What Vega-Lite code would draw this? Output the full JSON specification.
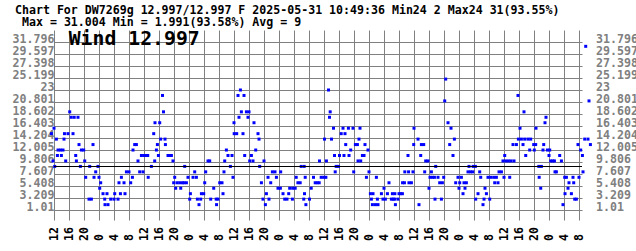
{
  "$schema": "https://vega.github.io/schema/vega-lite/v6.json",
  "width": 528,
  "height": 180,
  "autosize": "none",
  "padding": {"left": 54, "top": 30, "right": 54, "bottom": 41},
  "background": "white",
  "title": {
    "text": "Chart For DW7269g 12.997/12.997 F 2025-05-31 10:49:36 Min24 2 Max24 31(93.55%)",
    "anchor": "start",
    "frame": "group",
    "orient": "top",
    "font": "DejaVu Sans Mono",
    "fontSize": 11.6,
    "fontWeight": "bold",
    "color": "black",
    "lineHeight": 12,
    "dx": -39,
    "dy": 3,
    "offset": 3
  },
  "config": {
    "view": {"stroke": null},
    "axis": {
      "labelFont": "DejaVu Sans Mono",
      "labelFontSize": 11.6,
      "labelFontWeight": "bold",
      "gridColor": "#808080",
      "gridOpacity": 1,
      "gridWidth": 1,
      "domain": false,
      "title": null
    }
  },
  "data": {
    "values": [
      {"t": 11.31, "v": 15}, {"t": 11.73, "v": 10}, {"t": 12.0, "v": 16}, {"t": 12.19, "v": 9}, {"t": 12.64, "v": 14},
      {"t": 12.91, "v": 11}, {"t": 13.07, "v": 12}, {"t": 13.73, "v": 12}, {"t": 13.97, "v": 11}, {"t": 14.4, "v": 12},
      {"t": 14.67, "v": 14}, {"t": 14.79, "v": 15}, {"t": 15.12, "v": 10}, {"t": 15.73, "v": 15}, {"t": 16.19, "v": 19},
      {"t": 16.59, "v": 18}, {"t": 17.07, "v": 15}, {"t": 17.39, "v": 18}, {"t": 17.79, "v": 11}, {"t": 17.97, "v": 10},
      {"t": 18.4, "v": 18}, {"t": 18.67, "v": 13}, {"t": 19.04, "v": 9}, {"t": 19.31, "v": 12}, {"t": 19.92, "v": 12},
      {"t": 20.19, "v": 10}, {"t": 20.45, "v": 7}, {"t": 21.33, "v": 3}, {"t": 21.52, "v": 9}, {"t": 21.97, "v": 3},
      {"t": 22.4, "v": 13}, {"t": 22.67, "v": 7}, {"t": 23.12, "v": 8}, {"t": 23.73, "v": 9}, {"t": 24.0, "v": 7},
      {"t": 24.19, "v": 5}, {"t": 24.45, "v": 6}, {"t": 25.07, "v": 4}, {"t": 25.52, "v": 3}, {"t": 25.6, "v": 1.991},
      {"t": 26.13, "v": 4}, {"t": 26.4, "v": 1.991}, {"t": 27.12, "v": 3}, {"t": 28.0, "v": 3}, {"t": 28.19, "v": 4},
      {"t": 29.07, "v": 3}, {"t": 29.33, "v": 6}, {"t": 29.71, "v": 4}, {"t": 29.97, "v": 7}, {"t": 30.67, "v": 6},
      {"t": 30.93, "v": 4}, {"t": 31.31, "v": 8}, {"t": 32.0, "v": 8}, {"t": 32.45, "v": 6}, {"t": 32.91, "v": 7},
      {"t": 33.07, "v": 12}, {"t": 33.52, "v": 13}, {"t": 33.97, "v": 13}, {"t": 34.4, "v": 10}, {"t": 34.85, "v": 8},
      {"t": 35.31, "v": 11}, {"t": 35.73, "v": 8}, {"t": 36.0, "v": 11}, {"t": 36.53, "v": 11}, {"t": 37.0, "v": 11},
      {"t": 37.12, "v": 7}, {"t": 37.97, "v": 9}, {"t": 38.59, "v": 15}, {"t": 38.85, "v": 10}, {"t": 38.93, "v": 17},
      {"t": 39.31, "v": 12}, {"t": 39.57, "v": 13}, {"t": 39.84, "v": 11}, {"t": 40.19, "v": 17}, {"t": 40.45, "v": 14},
      {"t": 40.93, "v": 22}, {"t": 41.2, "v": 19}, {"t": 41.6, "v": 14}, {"t": 41.71, "v": 13}, {"t": 42.4, "v": 11},
      {"t": 42.85, "v": 11}, {"t": 43.31, "v": 11}, {"t": 43.73, "v": 10}, {"t": 43.92, "v": 6}, {"t": 44.19, "v": 7},
      {"t": 44.45, "v": 5}, {"t": 44.8, "v": 6}, {"t": 45.52, "v": 6}, {"t": 45.79, "v": 5}, {"t": 46.24, "v": 6},
      {"t": 46.67, "v": 6}, {"t": 46.85, "v": 9}, {"t": 47.31, "v": 6}, {"t": 47.73, "v": 7}, {"t": 48.19, "v": 3},
      {"t": 48.37, "v": 4}, {"t": 49.07, "v": 7}, {"t": 49.52, "v": 8}, {"t": 49.97, "v": 7}, {"t": 50.24, "v": 3},
      {"t": 50.67, "v": 1.991}, {"t": 51.12, "v": 3}, {"t": 51.31, "v": 4}, {"t": 51.92, "v": 4}, {"t": 52.19, "v": 6},
      {"t": 52.45, "v": 8}, {"t": 53.07, "v": 10}, {"t": 53.52, "v": 10}, {"t": 53.79, "v": 3}, {"t": 54.59, "v": 5},
      {"t": 55.25, "v": 3}, {"t": 55.35, "v": 1.991}, {"t": 55.73, "v": 3}, {"t": 56.19, "v": 6}, {"t": 56.8, "v": 6},
      {"t": 57.07, "v": 4}, {"t": 57.33, "v": 8}, {"t": 57.52, "v": 10}, {"t": 57.97, "v": 12}, {"t": 58.4, "v": 11},
      {"t": 59.04, "v": 9}, {"t": 59.47, "v": 11}, {"t": 59.73, "v": 7}, {"t": 60.0, "v": 17}, {"t": 60.05, "v": 15},
      {"t": 60.72, "v": 15}, {"t": 61.07, "v": 22}, {"t": 61.33, "v": 18}, {"t": 61.71, "v": 23}, {"t": 61.97, "v": 19},
      {"t": 62.4, "v": 15}, {"t": 62.67, "v": 22}, {"t": 62.85, "v": 11}, {"t": 63.31, "v": 19}, {"t": 63.73, "v": 18},
      {"t": 64.0, "v": 19}, {"t": 64.19, "v": 10}, {"t": 64.64, "v": 11}, {"t": 65.07, "v": 10}, {"t": 65.33, "v": 17},
      {"t": 65.79, "v": 12}, {"t": 66.4, "v": 15}, {"t": 66.67, "v": 14}, {"t": 66.85, "v": 9}, {"t": 67.31, "v": 6},
      {"t": 67.73, "v": 3}, {"t": 68.0, "v": 10}, {"t": 68.37, "v": 1.991}, {"t": 68.64, "v": 4}, {"t": 69.07, "v": 7},
      {"t": 69.33, "v": 3}, {"t": 69.79, "v": 6}, {"t": 70.24, "v": 8}, {"t": 70.93, "v": 8}, {"t": 71.31, "v": 7},
      {"t": 71.73, "v": 5}, {"t": 72.37, "v": 5}, {"t": 72.45, "v": 8}, {"t": 73.07, "v": 4}, {"t": 73.52, "v": 3},
      {"t": 74.13, "v": 3}, {"t": 74.59, "v": 4}, {"t": 74.85, "v": 5}, {"t": 75.57, "v": 3}, {"t": 75.65, "v": 5},
      {"t": 76.32, "v": 5}, {"t": 76.59, "v": 7}, {"t": 77.04, "v": 6}, {"t": 77.65, "v": 6}, {"t": 77.92, "v": 9},
      {"t": 78.6, "v": 3}, {"t": 78.72, "v": 9}, {"t": 78.8, "v": 4}, {"t": 78.99, "v": 7}, {"t": 79.17, "v": 1.991},
      {"t": 80.13, "v": 3}, {"t": 80.59, "v": 5}, {"t": 81.2, "v": 7}, {"t": 81.65, "v": 6}, {"t": 82.19, "v": 6},
      {"t": 82.72, "v": 6}, {"t": 82.8, "v": 10}, {"t": 83.25, "v": 7}, {"t": 83.92, "v": 7}, {"t": 84.13, "v": 14},
      {"t": 84.5, "v": 7}, {"t": 84.65, "v": 10}, {"t": 85.2, "v": 23}, {"t": 85.47, "v": 18}, {"t": 85.65, "v": 19},
      {"t": 86.0, "v": 14}, {"t": 86.53, "v": 16}, {"t": 86.8, "v": 11}, {"t": 86.99, "v": 8}, {"t": 87.25, "v": 9},
      {"t": 87.87, "v": 9}, {"t": 88.13, "v": 11}, {"t": 88.59, "v": 15}, {"t": 89.07, "v": 16}, {"t": 89.33, "v": 11},
      {"t": 89.6, "v": 15}, {"t": 89.79, "v": 13}, {"t": 90.51, "v": 16}, {"t": 90.67, "v": 11}, {"t": 91.12, "v": 12},
      {"t": 91.73, "v": 16}, {"t": 91.92, "v": 8}, {"t": 92.37, "v": 13}, {"t": 92.91, "v": 13}, {"t": 93.07, "v": 10},
      {"t": 93.33, "v": 14}, {"t": 93.6, "v": 16}, {"t": 93.79, "v": 10}, {"t": 94.24, "v": 11}, {"t": 94.67, "v": 11},
      {"t": 94.93, "v": 13}, {"t": 95.31, "v": 7}, {"t": 95.73, "v": 12}, {"t": 96.0, "v": 8}, {"t": 96.37, "v": 4},
      {"t": 96.64, "v": 3}, {"t": 96.91, "v": 1.991}, {"t": 97.07, "v": 4}, {"t": 97.71, "v": 1.991}, {"t": 97.97, "v": 7},
      {"t": 98.24, "v": 3}, {"t": 98.4, "v": 1.991}, {"t": 99.31, "v": 4}, {"t": 99.73, "v": 3}, {"t": 100.0, "v": 5},
      {"t": 100.37, "v": 3}, {"t": 100.91, "v": 4}, {"t": 101.33, "v": 6}, {"t": 101.97, "v": 3}, {"t": 102.24, "v": 4},
      {"t": 102.45, "v": 3}, {"t": 102.85, "v": 3}, {"t": 102.9, "v": 4}, {"t": 103.04, "v": 1.991}, {"t": 103.73, "v": 3},
      {"t": 104.0, "v": 4}, {"t": 104.45, "v": 4}, {"t": 104.91, "v": 4}, {"t": 104.95, "v": 6}, {"t": 105.45, "v": 6},
      {"t": 105.55, "v": 8}, {"t": 106.4, "v": 11}, {"t": 106.55, "v": 8}, {"t": 106.65, "v": 6}, {"t": 107.31, "v": 6},
      {"t": 107.73, "v": 8}, {"t": 107.92, "v": 13}, {"t": 108.0, "v": 16}, {"t": 109.07, "v": 14}, {"t": 109.33, "v": 1.991},
      {"t": 109.79, "v": 11}, {"t": 109.97, "v": 13}, {"t": 110.59, "v": 13}, {"t": 110.85, "v": 8}, {"t": 111.12, "v": 10},
      {"t": 111.73, "v": 10}, {"t": 112.0, "v": 5}, {"t": 112.27, "v": 7}, {"t": 112.64, "v": 8}, {"t": 112.91, "v": 7},
      {"t": 113.45, "v": 7}, {"t": 113.6, "v": 3}, {"t": 113.79, "v": 9}, {"t": 114.4, "v": 7}, {"t": 114.85, "v": 6},
      {"t": 115.31, "v": 3}, {"t": 115.57, "v": 6}, {"t": 115.92, "v": 7}, {"t": 116.19, "v": 21}, {"t": 116.45, "v": 25},
      {"t": 117.07, "v": 17}, {"t": 117.52, "v": 13}, {"t": 117.87, "v": 16}, {"t": 118.4, "v": 11}, {"t": 118.77, "v": 14},
      {"t": 119.12, "v": 6}, {"t": 119.73, "v": 7}, {"t": 120.0, "v": 5}, {"t": 120.19, "v": 6}, {"t": 120.64, "v": 7},
      {"t": 121.07, "v": 4}, {"t": 121.33, "v": 6}, {"t": 121.6, "v": 5}, {"t": 121.97, "v": 6}, {"t": 122.4, "v": 8},
      {"t": 122.67, "v": 9}, {"t": 123.07, "v": 8}, {"t": 123.68, "v": 8}, {"t": 123.78, "v": 9}, {"t": 124.37, "v": 9},
      {"t": 124.45, "v": 3}, {"t": 125.07, "v": 4}, {"t": 125.52, "v": 8}, {"t": 125.79, "v": 7}, {"t": 126.4, "v": 1.991},
      {"t": 126.67, "v": 3}, {"t": 126.93, "v": 5}, {"t": 127.31, "v": 4}, {"t": 127.73, "v": 7}, {"t": 128.19, "v": 3},
      {"t": 128.45, "v": 7}, {"t": 129.25, "v": 7}, {"t": 129.52, "v": 6}, {"t": 129.97, "v": 7}, {"t": 130.4, "v": 6},
      {"t": 130.67, "v": 8}, {"t": 131.31, "v": 8}, {"t": 131.73, "v": 10}, {"t": 132.0, "v": 7}, {"t": 132.19, "v": 11},
      {"t": 132.45, "v": 10}, {"t": 133.17, "v": 10}, {"t": 133.52, "v": 7}, {"t": 133.87, "v": 10}, {"t": 134.4, "v": 13},
      {"t": 134.67, "v": 10}, {"t": 135.31, "v": 13}, {"t": 135.73, "v": 22}, {"t": 135.84, "v": 14}, {"t": 136.27, "v": 16},
      {"t": 136.64, "v": 14}, {"t": 137.07, "v": 13}, {"t": 137.33, "v": 19}, {"t": 137.52, "v": 14}, {"t": 137.79, "v": 11},
      {"t": 138.4, "v": 14}, {"t": 138.85, "v": 12}, {"t": 139.12, "v": 14}, {"t": 139.92, "v": 13}, {"t": 140.08, "v": 12},
      {"t": 140.45, "v": 13}, {"t": 140.53, "v": 16}, {"t": 141.28, "v": 9}, {"t": 141.38, "v": 7}, {"t": 141.79, "v": 5},
      {"t": 141.97, "v": 9}, {"t": 142.4, "v": 12}, {"t": 142.59, "v": 13}, {"t": 142.93, "v": 17}, {"t": 143.2, "v": 18},
      {"t": 143.57, "v": 12}, {"t": 144.0, "v": 11}, {"t": 144.19, "v": 12}, {"t": 144.45, "v": 10}, {"t": 144.99, "v": 10},
      {"t": 145.45, "v": 10}, {"t": 145.6, "v": 8}, {"t": 145.97, "v": 8}, {"t": 146.85, "v": 11}, {"t": 147.31, "v": 10},
      {"t": 147.73, "v": 1.991}, {"t": 148.19, "v": 7}, {"t": 148.27, "v": 4}, {"t": 148.64, "v": 7}, {"t": 149.07, "v": 5},
      {"t": 149.33, "v": 6}, {"t": 149.97, "v": 4}, {"t": 150.4, "v": 7}, {"t": 150.59, "v": 6}, {"t": 150.85, "v": 3},
      {"t": 151.31, "v": 3}, {"t": 151.73, "v": 13}, {"t": 152.0, "v": 7}, {"t": 152.45, "v": 12}, {"t": 152.91, "v": 11},
      {"t": 153.07, "v": 8}, {"t": 153.52, "v": 14}, {"t": 153.79, "v": 31.004}, {"t": 154.4, "v": 14}, {"t": 154.67, "v": 21},
      {"t": 155.04, "v": 13}
    ]
  },
  "layer": [
    {
      "mark": {"type": "square", "size": 9, "color": "#0000ff", "opacity": 1, "filled": true},
      "encoding": {
        "x": {
          "field": "t", "type": "quantitative",
          "scale": {"domain": [12, 152.8], "nice": false, "zero": false},
          "axis": {
            "values": [12,16,20,24,28,32,36,40,44,48,52,56,60,64,68,72,76,80,84,88,92,96,100,104,108,112,116,120,124,128,132,136,140,144,148,152],
            "labelExpr": "datum.value % 24",
            "labelAngle": 270,
            "labelAlign": "left",
            "labelBaseline": "middle",
            "labelColor": "black",
            "labelPadding": 20.5,
            "ticks": true,
            "tickSize": 10,
            "tickColor": "#808080",
            "grid": true,
            "labelOverlap": false,
            "labelBound": false,
            "labelFlush": false
          }
        },
        "y": {
          "field": "v", "type": "quantitative",
          "scale": {"domain": [1.01, 33.995], "nice": false, "zero": false},
          "axis": {
            "orient": "left",
            "values": [1.01, 3.209, 5.408, 7.607, 9.806, 12.005, 14.204, 16.403, 18.602, 20.801, 23, 25.199, 27.398, 29.597, 31.796],
            "labelExpr": "datum.value",
            "labelColor": "#808080",
            "labelBaseline": "alphabetic",
            "labelPadding": 0,
            "ticks": false,
            "grid": true,
            "labelOverlap": false,
            "labelBound": false,
            "labelFlush": false
          }
        }
      }
    },
    {
      "mark": {"type": "rule", "color": "black", "strokeWidth": 1},
      "encoding": {
        "y": {
          "datum": 8.98, "type": "quantitative",
          "axis": {
            "orient": "right",
            "values": [1.01, 3.209, 5.408, 7.607, 9.806, 12.005, 14.204, 16.403, 18.602, 20.801, 23, 25.199, 27.398, 29.597, 31.796],
            "labelExpr": "datum.value",
            "labelColor": "#808080",
            "labelBaseline": "alphabetic",
            "labelAlign": "left",
            "labelPadding": 13.5,
            "ticks": false,
            "grid": false,
            "labelOverlap": false,
            "labelBound": false,
            "labelFlush": false
          }
        }
      }
    },
    {
      "data": {"values": [{"label": "Wind 12.997"}]},
      "mark": {"type": "text", "align": "left", "baseline": "alphabetic", "font": "DejaVu Sans Mono", "fontSize": 19.8, "fontWeight": "bold", "color": "black"},
      "encoding": {
        "x": {"datum": 15.92, "type": "quantitative", "axis": null},
        "y": {"datum": 31.3, "type": "quantitative", "axis": null},
        "text": {"field": "label"}
      }
    },
    {
      "data": {"values": [{"label": "Max = 31.004 Min = 1.991(93.58%) Avg = 9"}]},
      "mark": {"type": "text", "align": "left", "baseline": "alphabetic", "font": "DejaVu Sans Mono", "fontSize": 11.6, "fontWeight": "bold", "color": "black"},
      "encoding": {
        "x": {"datum": 3.47, "type": "quantitative", "axis": null},
        "y": {"datum": 34.73, "type": "quantitative", "axis": null},
        "text": {"field": "label"}
      }
    }
  ],
  "resolve": {"axis": {"x": "independent", "y": "independent"}}
}
